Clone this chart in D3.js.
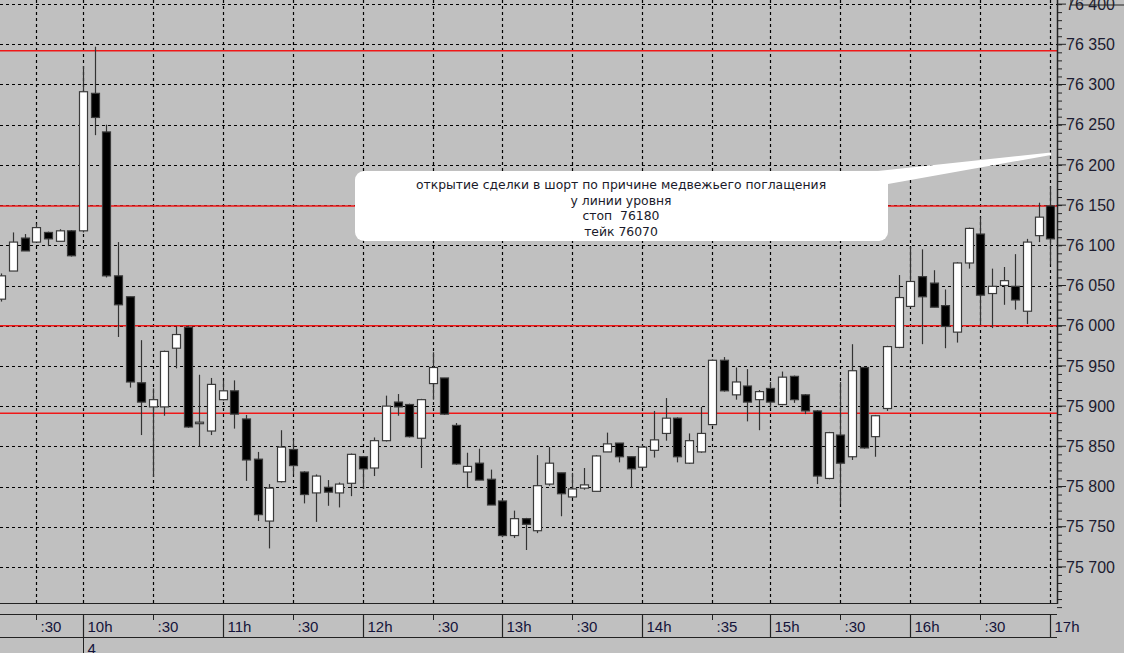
<!DOCTYPE html>
<html>
<head>
<meta charset="utf-8">
<script src="https://d3js.org/d3.v7.min.js"></script>
<style>
  body { margin: 0; background: #c0c0c0; }
  svg { display: block; }
</style>
</head>
<body>
<svg id="chart" width="1124" height="653"></svg>
<script>
// 5-minute candles, index 0 = left edge
var opens  = [76033,76068,76109,76104,76116,76105,76118,76118,76289,76241,
              76062,76036,75929,75899,75899,75972,75998,75880,75869,75908,
              75919,75884,75834,75757,75806,75846,75818,75792,75799,75792,
              75804,75837,75823,75857,75905,75902,75860,75928,75935,75876,
              75818,75829,75809,75782,75739,75760,75745,75803,75817,75787,
              75798,75794,75843,75854,75837,75824,75845,75866,75885,75829,
              75843,75877,75957,75914,75925,75908,75922,75902,75937,75914,
              75894,75810,75864,75837,75948,75862,75897,75973,76024,76061,
              76053,76025,75992,76078,76114,76040,76050,76049,76018,76112,
              76149];
var highs  = [76065,76116,76114,76127,76117,76120,76119,76323,76347,76250,
              76104,76036,75982,75922,75969,75999,76000,75939,75935,75932,
              75932,75889,75843,75803,75870,75858,75819,75815,75808,75805,
              75841,75838,75861,75913,75915,75903,75909,75967,75935,75879,
              75842,75847,75821,75783,75770,75761,75839,75849,75817,75817,
              75823,75839,75867,75854,75837,75851,75894,75910,75886,75866,
              75899,75958,75961,75948,75946,75920,75930,75943,75938,75915,
              75895,75868,75930,75977,75949,75889,75975,76063,76098,76095,
              76069,76045,76079,76122,76135,76071,76073,76089,76108,76153,
              76173];
var lows   = [76030,76068,76093,76104,76099,76105,76086,76116,76237,76060,
              75986,75923,75864,75812,75888,75947,75873,75850,75864,75907,
              75872,75807,75757,75723,75805,75815,75779,75756,75776,75774,
              75788,75797,75813,75856,75888,75861,75823,75908,75889,75827,
              75798,75808,75777,75737,75736,75721,75742,75801,75763,75786,
              75796,75794,75843,75830,75798,75823,75836,75857,75830,75828,
              75842,75876,75918,75908,75881,75870,75898,75901,75904,75890,
              75803,75809,75778,75833,75847,75837,75894,75972,76023,75977,
              76023,75972,75979,76071,76001,75997,76026,76020,76002,76104,
              76076];
var closes = [76062,76104,76093,76122,76108,76118,76087,76291,76259,76062,
              76026,75930,75905,75908,75968,75989,75874,75880,75927,75919,
              75890,75833,75765,75798,75849,75826,75790,75813,75793,75803,
              75840,75822,75857,75900,75899,75862,75908,75948,75890,75828,
              75825,75808,75777,75739,75760,75753,75801,75829,75791,75797,
              75802,75838,75853,75837,75822,75849,75858,75885,75837,75857,
              75866,75957,75919,75930,75905,75918,75905,75936,75908,75894,
              75813,75867,75829,75944,75848,75888,75974,76035,76055,76036,
              76023,75999,76078,76121,76038,76049,76056,76032,76104,76135,
              76108];

// time axis ticks (candle index + label)
var timeTickIdx    = [3, 7, 13, 19, 25, 31, 37, 43, 49, 55, 61, 66, 72, 78, 84, 90];
var timeTickLabels = [":30","10h",":30","11h",":30","12h",":30","13h",":30","14h",":35","15h",":30","16h",":30","17h"];
var dayIdx = [7];
var dayLabels = ["4"];

// price axis
var priceTicks = [76400,76350,76300,76250,76200,76150,76100,76050,76000,75950,75900,75850,75800,75750,75700];
var levels = [76342, 76149, 76000, 75891];

var noteLines = ["открытие сделки в шорт по причине медвежьего поглащения",
                 "у линии уровня",
                 "стоп  76180",
                 "тейк 76070"];

var svg = d3.select("#chart");
var plotRight = 1057, plotBottom = 603;

var x = d3.scaleLinear().domain([7, 90]).range([82.9, 1050.2]);
var y = d3.scaleLinear().domain([75700, 76350]).range([566.9, 44.3]);

svg.append("rect").attr("width", 1124).attr("height", 653).attr("fill", "#c0c0c0");

var plot = svg.append("g");
plot.append("clipPath").attr("id", "clip")
  .append("rect").attr("x", 0).attr("y", 0).attr("width", plotRight).attr("height", plotBottom);
var inner = plot.append("g").attr("clip-path", "url(#clip)");

// dashed grid
inner.selectAll(".hgrid").data(priceTicks).enter().append("line")
  .attr("x1", 0).attr("x2", plotRight)
  .attr("y1", function(d) { return Math.round(y(d)) + 0.5; })
  .attr("y2", function(d) { return Math.round(y(d)) + 0.5; })
  .attr("stroke", "#000").attr("stroke-width", 1.2).attr("stroke-dasharray", "3,3");
inner.selectAll(".vgrid").data(timeTickIdx).enter().append("line")
  .attr("y1", 0).attr("y2", plotBottom)
  .attr("x1", function(d) { return Math.round(x(d)) + 0.5; })
  .attr("x2", function(d) { return Math.round(x(d)) + 0.5; })
  .attr("stroke", "#000").attr("stroke-width", 1.2).attr("stroke-dasharray", "3,3");

// red levels
inner.selectAll(".level").data(levels).enter().append("line")
  .attr("x1", 0).attr("x2", plotRight)
  .attr("y1", function(d) { return y(d); })
  .attr("y2", function(d) { return y(d); })
  .attr("stroke", "#f01818").attr("stroke-width", 1.5);

// candles
var candles = inner.selectAll(".candle").data(d3.range(opens.length)).enter().append("g");
candles.append("line")
  .attr("x1", function(i) { return Math.round(x(i)) + 0.5; })
  .attr("x2", function(i) { return Math.round(x(i)) + 0.5; })
  .attr("y1", function(i) { return y(highs[i]); })
  .attr("y2", function(i) { return y(lows[i]); })
  .attr("stroke", "#333").attr("stroke-width", 1.2);
candles.append("rect")
  .attr("x", function(i) { return Math.round(x(i)) - 3.5; })
  .attr("width", 8)
  .attr("y", function(i) { return y(Math.max(opens[i], closes[i])); })
  .attr("height", function(i) { return Math.max(1.5, Math.abs(y(opens[i]) - y(closes[i]))); })
  .attr("fill", function(i) { return closes[i] >= opens[i] ? "#fff" : "#000"; })
  .attr("stroke", "#3a3a3a").attr("stroke-width", 1.2);

// callout
var note = svg.append("g");
note.append("path")
  .attr("d", "M878,171 L1051,152.5 L1051,155 L888,184 Z")
  .attr("fill", "#fff");
note.append("rect")
  .attr("x", 355).attr("y", 171).attr("width", 533).attr("height", 70)
  .attr("rx", 9).attr("fill", "#fff");
note.selectAll("text").data(noteLines).enter().append("text")
  .attr("x", 621)
  .attr("y", function(d, i) { return 189 + i * 15.6; })
  .attr("text-anchor", "middle")
  .attr("font-family", "'DejaVu Sans', sans-serif")
  .attr("font-size", 12.4)
  .attr("fill", "#1a1a2a")
  .style("white-space", "pre")
  .text(function(d) { return d; });

// right price axis
var axisR = svg.append("g").attr("transform", "translate(" + plotRight + ",0)");
axisR.append("line").attr("x1", 0.5).attr("x2", 0.5).attr("y1", 0).attr("y2", plotBottom + 1)
  .attr("stroke", "#222").attr("stroke-width", 1.5);
axisR.call(d3.axisRight(y).tickValues(d3.range(75650, 76420, 10)).tickSize(5).tickFormat(""))
  .call(function(g) {
    g.select(".domain").remove();
    g.selectAll(".tick line").attr("stroke", "#222");
  });
var priceLabel = axisR.selectAll(".plabel").data(priceTicks).enter().append("g")
  .attr("transform", function(d) { return "translate(0," + y(d) + ")"; });
priceLabel.append("line").attr("x1", 0).attr("x2", 9).attr("stroke", "#222");
priceLabel.append("text")
  .attr("x", 9).attr("dy", "0.36em")
  .attr("font-family", "'Liberation Sans', Arial, sans-serif")
  .attr("font-size", 16).attr("fill", "#1c1c30")
  .text(function(d) { return d3.format(",")(d).replace(",", " "); });
axisR.append("rect").attr("x", 14).attr("y", -14).attr("width", 60).attr("height", 19)
  .attr("fill", "none").attr("stroke", "#222");

// bottom time axis
var axisB = svg.append("g");
axisB.append("line").attr("x1", 0).attr("x2", plotRight).attr("y1", plotBottom + 0.5).attr("y2", plotBottom + 0.5)
  .attr("stroke", "#222").attr("stroke-width", 1.2);
axisB.append("line").attr("x1", 0).attr("x2", plotRight).attr("y1", 614.5).attr("y2", 614.5)
  .attr("stroke", "#222").attr("stroke-width", 1.2);
axisB.append("line").attr("x1", 0).attr("x2", plotRight).attr("y1", 637.5).attr("y2", 637.5)
  .attr("stroke", "#222").attr("stroke-width", 1.2);
var tt = axisB.selectAll(".tt").data(timeTickIdx).enter().append("g")
  .attr("transform", function(d) { return "translate(" + (Math.round(x(d)) + 0.5) + ",0)"; });
tt.append("line")
  .attr("y1", 614)
  .attr("y2", function(d, i) { return timeTickLabels[i].indexOf("h") > 0 ? 637 : 620; })
  .attr("stroke", "#222").attr("stroke-width", function(d, i) { return timeTickLabels[i].indexOf("h") > 0 ? 1.2 : 1; });
tt.append("text")
  .attr("x", 4).attr("y", 632)
  .attr("font-family", "'Liberation Sans', Arial, sans-serif")
  .attr("font-size", 15).attr("fill", "#14143a")
  .text(function(d, i) { return timeTickLabels[i]; });
var day = axisB.selectAll(".day").data(dayIdx).enter().append("g")
  .attr("transform", function(d) { return "translate(" + (Math.round(x(d)) + 0.5) + ",0)"; });
day.append("line").attr("y1", 637).attr("y2", 653).attr("stroke", "#222");
day.append("text").attr("x", 4).attr("y", 654)
  .attr("font-family", "'Liberation Sans', Arial, sans-serif")
  .attr("font-size", 15).attr("fill", "#14143a")
  .text(function(d, i) { return dayLabels[i]; });
</script>
</body>
</html>
